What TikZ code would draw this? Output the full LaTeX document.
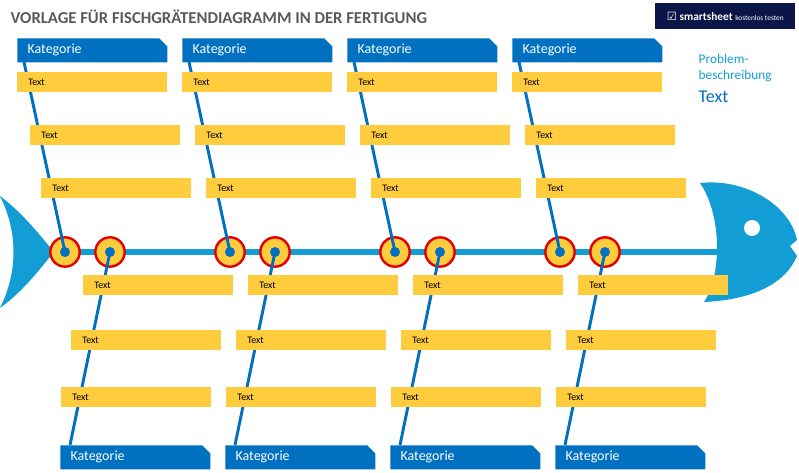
\documentclass[tikz,border=0pt]{standalone}
\usepackage{fontspec}
\setmainfont{Carlito}
\newfontfamily\dejavu{DejaVu Sans}
\usetikzlibrary{positioning, shapes.misc}
\definecolor{boneblue}{RGB}{0,112,192}
\definecolor{fishblue}{RGB}{18,157,212}
\definecolor{bargold}{RGB}{255,204,62}
\definecolor{navy}{RGB}{10,22,72}
\definecolor{titlegray}{RGB}{90,90,90}

\begin{document}
\begin{tikzpicture}[x=0.75pt, y=-0.75pt,
    kat/.style={fill=boneblue, text=white, font=\fontsize{10.5}{12}\selectfont, anchor=north west,
        inner sep=0pt, minimum width=112.5pt, minimum height=18pt, text width=104pt, align=left,
        chamfered rectangle, chamfered rectangle corners=north east, chamfered rectangle xsep=3pt},
    bar/.style={fill=bargold, font=\fontsize{7.5}{8}\selectfont, anchor=north west, inner sep=0pt,
        minimum width=112.5pt, minimum height=15pt, text width=106pt, align=left},
    bone/.style={boneblue, line width=2.2pt},
    joint/.style={circle, draw=red!90!black, fill=bargold, line width=1.8pt, minimum size=22pt, inner sep=0pt}
]
    \useasboundingbox (0,0) rectangle (799,473);

    % Title and logo
    \node[anchor=west, text=titlegray, font=\fontsize{12.5}{14}\selectfont\bfseries] (title) at (6,17)
        {VORLAGE FÜR FISCHGRÄTENDIAGRAMM IN DER FERTIGUNG};
    \node[fill=navy, text=white, anchor=north west, minimum width=105pt, minimum height=19.5pt,
        inner sep=0pt, font=\fontsize{8.5}{9}\selectfont\bfseries] (logo) at (655,3)
        {{\dejavu ☑} smartsheet {\fontsize{5.5}{6}\selectfont\mdseries kostenlos testen}};

    % Problem description
    \node[anchor=north west, text=fishblue, align=left, font=\fontsize{10}{12}\selectfont] (prob) at (694,50)
        {Problem-\\beschreibung};
    \node[anchor=north west, text=boneblue, font=\fontsize{13.5}{14}\selectfont] (probtext) at (694,86) {Text};

    % Tail and head
    \fill[fishblue] (0,196) .. controls (25,215) and (42,238) .. (54,252)
        .. controls (42,266) and (25,290) .. (0,308) .. controls (18,272) and (18,232) .. (0,196);
    \fill[fishblue] (700,183) .. controls (745,178) and (790,205) .. (797,240)
        -- (790,246) -- (797,256) .. controls (785,285) and (750,300) .. (704,302)
        .. controls (722,275) and (722,215) .. (700,183);
    \fill[white] (752,228) circle (8);

    % Spine
    \draw[fishblue, line width=4pt] (50,252) -- (720,252);

    \foreach \i/\ox in {1/0, 2/165, 3/330, 4/495} {
        % upper bone
        \node[kat] (kt\i) at (17+\ox,38) {~Kategorie};
        \coordinate (tt\i) at (24+\ox,62);
        \node[joint] (ja\i) at (65+\ox,252) {};
        \draw[bone] (tt\i) -- (ja\i.center);
        \node[bar] (ta\i) at (17+\ox,72) {~~Text};
        \node[bar] (tb\i) at (30+\ox,125) {~~Text};
        \node[bar] (tc\i) at (41+\ox,178) {~~Text};
        \fill[boneblue] (ja\i) circle (5);
        % lower bone
        \node[kat] (kb\i) at (60+\ox,445) {~Kategorie};
        \coordinate (tl\i) at (70+\ox,445);
        \node[joint] (jb\i) at (110+\ox,252) {};
        \draw[bone] (tl\i) -- (jb\i.center);
        \node[bar] (ba\i) at (83+\ox,275) {~~Text};
        \node[bar] (bb\i) at (71+\ox,330) {~~Text};
        \node[bar] (bc\i) at (61+\ox,387) {~~Text};
        \fill[boneblue] (jb\i) circle (5);
    }
\end{tikzpicture}
\end{document}
